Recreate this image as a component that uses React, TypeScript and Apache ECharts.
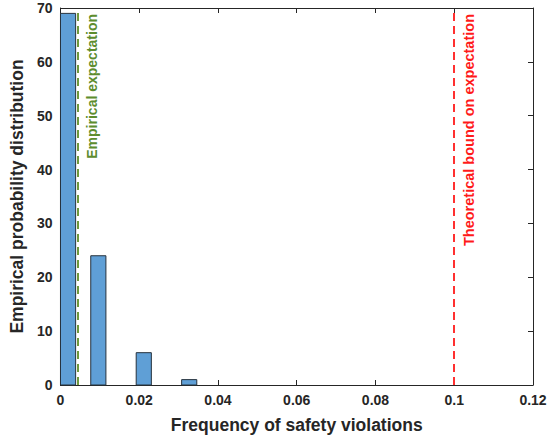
import React, { useEffect, useRef } from "react";
import * as echarts from "echarts";

const binStarts = [0, 0.00769, 0.01923, 0.03077];
const binEnds = [0.00385, 0.01154, 0.02308, 0.03462];
const counts = [69, 24, 6, 1];
const empiricalExpectation = 0.00435;
const theoreticalBound = 0.1;

const FONT = "Liberation Sans, Arial, sans-serif";

export default function App() {
  const ref = useRef<HTMLDivElement>(null);
  useEffect(() => {
    document.body.style.margin = "0";
    if (!ref.current) return;
    const chart = echarts.init(ref.current, undefined, { renderer: "svg" });
    const data = counts.map((c, i) => [binStarts[i], binEnds[i], c]);
    const axisLineStyle = { color: "#262626", width: 1 };
    chart.setOption({
      animation: false,
      grid: { left: 55, right: 17, top: 8, bottom: 52 },
      xAxis: [
        {
          type: "value",
          min: 0,
          max: 0.12,
          interval: 0.02,
          position: "bottom",
          axisLine: { show: true, lineStyle: axisLineStyle },
          axisTick: { show: true, inside: true, length: 5, lineStyle: axisLineStyle },
          splitLine: { show: false },
          axisLabel: {
            color: "#262626",
            fontFamily: FONT,
            fontWeight: "bold",
            fontSize: 14,
            margin: 8,
            formatter: (v: number) => String(Number(v.toFixed(2))),
          },
          name: "Frequency of safety violations",
          nameLocation: "middle",
          nameGap: 31,
          nameTextStyle: { color: "#262626", fontFamily: FONT, fontWeight: "bold", fontSize: 17.5 },
        },
        {
          type: "value",
          min: 0,
          max: 0.12,
          interval: 0.02,
          position: "top",
          axisLine: { show: true, onZero: false, lineStyle: axisLineStyle },
          axisTick: { show: true, inside: true, length: 5, lineStyle: axisLineStyle },
          axisLabel: { show: false },
          splitLine: { show: false },
        },
      ],
      yAxis: [
        {
          type: "value",
          min: 0,
          max: 70,
          interval: 10,
          position: "left",
          axisLine: { show: true, lineStyle: axisLineStyle },
          axisTick: { show: true, inside: true, length: 5, lineStyle: axisLineStyle },
          splitLine: { show: false },
          axisLabel: {
            color: "#262626",
            fontFamily: FONT,
            fontWeight: "bold",
            fontSize: 14,
            margin: 8,
          },
          name: "Empirical probability distribution",
          nameLocation: "middle",
          nameGap: 30,
          nameTextStyle: { color: "#262626", fontFamily: FONT, fontWeight: "bold", fontSize: 17.5 },
        },
        {
          type: "value",
          min: 0,
          max: 70,
          interval: 10,
          position: "right",
          axisLine: { show: true, onZero: false, lineStyle: axisLineStyle },
          axisTick: { show: true, inside: true, length: 5, lineStyle: axisLineStyle },
          axisLabel: { show: false },
          splitLine: { show: false },
        },
      ],
      series: [
        {
          type: "custom",
          xAxisIndex: 0,
          yAxisIndex: 0,
          data,
          renderItem: (params: any, api: any) => {
            const p0 = api.coord([api.value(0), api.value(2)]);
            const p1 = api.coord([api.value(1), 0]);
            return {
              type: "rect",
              shape: { x: p0[0], y: p0[1], width: p1[0] - p0[0], height: p1[1] - p0[1] },
              style: { fill: "#5f9fd6", stroke: "#26323d", lineWidth: 1 },
            };
          },
          z: 2,
        },
        {
          type: "line",
          data: [],
          markLine: {
            silent: true,
            symbol: "none",
            animation: false,
            data: [
              [
                { coord: [empiricalExpectation, 0] },
                { coord: [empiricalExpectation, 70] },
              ],
            ],
            lineStyle: { color: "#6f9a3e", type: [8, 5], width: 2 },
            label: {
              show: true,
              formatter: "Empirical expectation",
              position: "insideEndBottom",
              distance: [6, 7],
              color: "#5d8d2e",
              fontFamily: FONT,
              fontWeight: "bold",
              fontSize: 14,
            },
          },
          z: 3,
        },
        {
          type: "line",
          data: [],
          markLine: {
            silent: true,
            symbol: "none",
            animation: false,
            data: [
              [
                { coord: [theoreticalBound, 0] },
                { coord: [theoreticalBound, 70] },
              ],
            ],
            lineStyle: { color: "#ff3030", type: [8, 5], width: 2 },
            label: {
              show: true,
              formatter: "Theoretical bound on expectation",
              position: "insideEndBottom",
              distance: [6, 7],
              color: "#ff1a1a",
              fontFamily: FONT,
              fontWeight: "bold",
              fontSize: 14.5,
            },
          },
          z: 3,
        },
      ],
    });
    return () => chart.dispose();
  }, []);
  return <div ref={ref} style={{ width: 550, height: 439 }} />;
}
